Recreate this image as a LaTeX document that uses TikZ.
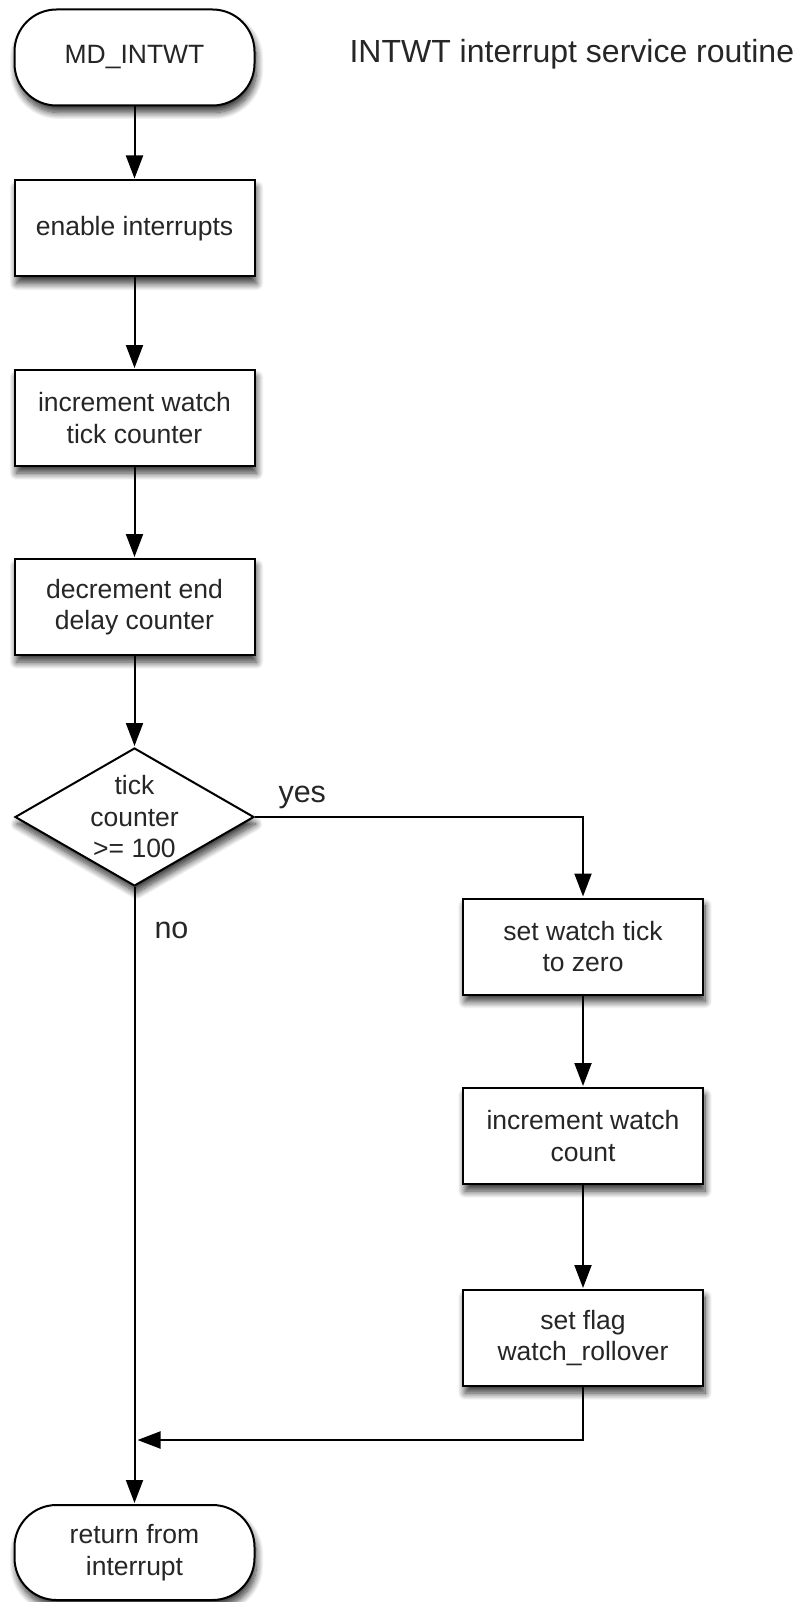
\documentclass[tikz,border=0pt]{standalone}
\usepackage{fontspec}
\setmainfont{Liberation Sans}
\usetikzlibrary{arrows.meta,shapes.geometric,shadows.blur}

\definecolor{inkline}{RGB}{0,0,0}
\definecolor{inktext}{RGB}{38,38,38}

\tikzset{
  boxtext/.style={font=\fontsize{26.5}{31.5}\selectfont, text=inktext, align=center},
  softshadow/.style={blur shadow={shadow xshift=2pt, shadow yshift=-7pt,
      shadow blur radius=7pt, shadow blur steps=12, shadow opacity=80}},
  procbox/.style={boxtext, draw=inkline, line width=2pt, fill=white, softshadow,
      rectangle, minimum width=240pt, minimum height=96pt, inner sep=0pt},
  termbox/.style={procbox, rounded corners=42pt, minimum width=240pt},
  decbox/.style={draw=inkline, line width=2pt, fill=white, softshadow,
      diamond, minimum width=239pt, minimum height=138pt, inner sep=0pt},
  flow/.style={draw=inkline, line width=2pt,
      -{Triangle[length=23pt, width=17pt]}, shorten >=1pt},
  branchlabel/.style={font=\fontsize{30.5}{36}\selectfont, text=inktext, anchor=base west},
  titletext/.style={font=\fontsize{32}{38}\selectfont, text=inktext, anchor=base west}
}

\begin{document}
\begin{tikzpicture}[x=1pt, y=1pt]
  \useasboundingbox (0,0) rectangle (794,-1602);

  % main column
  \node[termbox] (start)  at (134.5,-57.5)  {MD\_INTWT};
  \node[procbox] (enable) at (134.5,-228.5) {enable interrupts};
  \node[procbox] (inctick) at (134.5,-418)  {increment watch\\tick counter};
  \node[procbox] (decdelay) at (134.5,-607) {decrement end\\delay counter};
  \node[decbox]  (check)  at (134.5,-817) {};
  \node[boxtext] (checktext) at (check) {tick\\counter\\>= 100};
  \node[termbox, minimum height=95pt] (ret) at (134.5,-1552.5) {return from\\interrupt};

  % "yes" branch column
  \node[procbox] (settick)  at (583,-946.5) {set watch tick\\to zero};
  \node[procbox] (inccount) at (583,-1136)  {increment watch\\count};
  \node[procbox] (setflag)  at (583,-1338)  {set flag\\watch\_rollover};

  % heading
  \node[titletext] (title) at (346,-63) {INTWT interrupt service routine};

  % connectors
  \draw[flow] (start) -- (enable);
  \draw[flow] (enable) -- (inctick);
  \draw[flow] (inctick) -- (decdelay);
  \draw[flow] (decdelay) -- (check);
  \draw[flow] (check.east) -| (settick.north);
  \draw[flow] (settick) -- (inccount);
  \draw[flow] (inccount) -- (setflag);
  \draw[flow] (check.south) -- (ret.north);
  \coordinate (merge) at (136.5,-1440);
  \draw[flow] (setflag.south) |- (merge);

  % branch labels
  \node[branchlabel] (yes) at (275,-802) {yes};
  \node[branchlabel] (no)  at (151,-938) {no};
\end{tikzpicture}
\end{document}
